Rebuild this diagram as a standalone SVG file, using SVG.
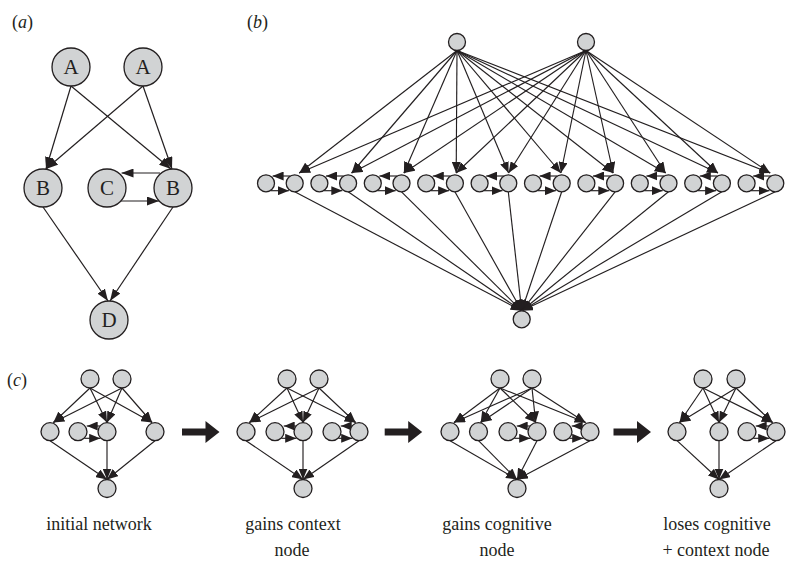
<svg xmlns="http://www.w3.org/2000/svg" width="794" height="565" viewBox="0 0 794 565">
<style>
.n{fill:#d1d3d4;stroke:#231f20;stroke-width:1.3}
.e{stroke:#231f20;stroke-width:1.15;fill:none;marker-end:url(#ah)}
.ea{stroke:#231f20;stroke-width:1.2;fill:none;marker-end:url(#ahL)}
.t{font-family:"Liberation Serif","Times New Roman",serif;font-size:18px;fill:#231f20}
.nl{font-family:"Liberation Serif","Times New Roman",serif;font-size:21px;fill:#231f20;text-anchor:middle}
.lb{text-anchor:middle}
.big{fill:#231f20}
</style>
<defs>
<marker id="ah" viewBox="0 0 11 9" refX="11" refY="4.5" markerWidth="11" markerHeight="9" markerUnits="userSpaceOnUse" orient="auto">
<path d="M0,0 L11,4.5 L0,9 z" fill="#231f20"/>
</marker>
<marker id="ahL" viewBox="0 0 12 9" refX="12" refY="4.5" markerWidth="12" markerHeight="9" markerUnits="userSpaceOnUse" orient="auto">
<path d="M0,0 L12,4.5 L0,9 z" fill="#231f20"/>
</marker>
</defs>
<rect width="794" height="565" fill="#ffffff"/>

<!-- panel labels -->
<text class="t" x="12" y="28">(<tspan font-style="italic">a</tspan>)</text>
<text class="t" x="247" y="28">(<tspan font-style="italic">b</tspan>)</text>
<text class="t" x="7" y="386">(<tspan font-style="italic">c</tspan>)</text>

<g id="connectors">
<!-- panel a -->
<line class="ea" x1="71" y1="86" x2="46" y2="169"/>
<line class="ea" x1="143" y1="86" x2="46" y2="169"/>
<line class="ea" x1="71" y1="86" x2="171" y2="169"/>
<line class="ea" x1="143" y1="86" x2="172" y2="169"/>
<line class="ea" x1="160" y1="173" x2="121.5" y2="173"/>
<line class="ea" x1="121" y1="201" x2="159" y2="201"/>
<line class="ea" x1="43" y1="207" x2="108" y2="301"/>
<line class="ea" x1="173" y1="207" x2="110" y2="301"/>

<!-- panel b top edges -->
<line class="e" x1="457" y1="50.5" x2="299.2" y2="173"/>
<line class="e" x1="457" y1="50.5" x2="351.6" y2="173"/>
<line class="e" x1="457" y1="50.5" x2="403.9" y2="173"/>
<line class="e" x1="457" y1="50.5" x2="456.2" y2="173"/>
<line class="e" x1="457" y1="50.5" x2="508.6" y2="173"/>
<line class="e" x1="457" y1="50.5" x2="560.9" y2="173"/>
<line class="e" x1="457" y1="50.5" x2="613.2" y2="173"/>
<line class="e" x1="457" y1="50.5" x2="665.6" y2="173"/>
<line class="e" x1="457" y1="50.5" x2="717.9" y2="173"/>
<line class="e" x1="457" y1="50.5" x2="770.2" y2="173"/>
<line class="e" x1="586" y1="50.5" x2="299.2" y2="173"/>
<line class="e" x1="586" y1="50.5" x2="351.6" y2="173"/>
<line class="e" x1="586" y1="50.5" x2="403.9" y2="173"/>
<line class="e" x1="586" y1="50.5" x2="456.2" y2="173"/>
<line class="e" x1="586" y1="50.5" x2="508.6" y2="173"/>
<line class="e" x1="586" y1="50.5" x2="560.9" y2="173"/>
<line class="e" x1="586" y1="50.5" x2="613.2" y2="173"/>
<line class="e" x1="586" y1="50.5" x2="665.6" y2="173"/>
<line class="e" x1="586" y1="50.5" x2="717.9" y2="173"/>
<line class="e" x1="586" y1="50.5" x2="770.2" y2="173"/>
<!-- panel b pair edges -->
<line class="e" x1="290.3" y1="176" x2="272.6" y2="176"/>
<line class="e" x1="270.4" y1="190.7" x2="288.9" y2="190.7"/>
<line class="e" x1="343.7" y1="176" x2="326" y2="176"/>
<line class="e" x1="323.8" y1="190.7" x2="342.3" y2="190.7"/>
<line class="e" x1="397.1" y1="176" x2="379.4" y2="176"/>
<line class="e" x1="377.2" y1="190.7" x2="395.7" y2="190.7"/>
<line class="e" x1="450.5" y1="176" x2="432.8" y2="176"/>
<line class="e" x1="430.6" y1="190.7" x2="449.1" y2="190.7"/>
<line class="e" x1="503.9" y1="176" x2="486.2" y2="176"/>
<line class="e" x1="484" y1="190.7" x2="502.5" y2="190.7"/>
<line class="e" x1="557.3" y1="176" x2="539.6" y2="176"/>
<line class="e" x1="537.4" y1="190.7" x2="555.9" y2="190.7"/>
<line class="e" x1="610.7" y1="176" x2="593" y2="176"/>
<line class="e" x1="590.8" y1="190.7" x2="609.3" y2="190.7"/>
<line class="e" x1="664.1" y1="176" x2="646.4" y2="176"/>
<line class="e" x1="644.2" y1="190.7" x2="662.7" y2="190.7"/>
<line class="e" x1="717.5" y1="176" x2="699.8" y2="176"/>
<line class="e" x1="697.6" y1="190.7" x2="716.1" y2="190.7"/>
<line class="e" x1="770.9" y1="176" x2="753.2" y2="176"/>
<line class="e" x1="751" y1="190.7" x2="769.5" y2="190.7"/>
<!-- panel b bottom edges -->
<line class="e" x1="294.7" y1="191.8" x2="521.7" y2="310.8"/>
<line class="e" x1="348.1" y1="191.8" x2="521.7" y2="310.8"/>
<line class="e" x1="401.5" y1="191.8" x2="521.7" y2="310.8"/>
<line class="e" x1="454.9" y1="191.8" x2="521.7" y2="310.8"/>
<line class="e" x1="508.3" y1="191.8" x2="521.7" y2="310.8"/>
<line class="e" x1="561.7" y1="191.8" x2="521.7" y2="310.8"/>
<line class="e" x1="615.1" y1="191.8" x2="521.7" y2="310.8"/>
<line class="e" x1="668.5" y1="191.8" x2="521.7" y2="310.8"/>
<line class="e" x1="721.9" y1="191.8" x2="521.7" y2="310.8"/>
<line class="e" x1="775.3" y1="191.8" x2="521.7" y2="310.8"/>

<!-- panel c network 1 -->
<line class="e" x1="90" y1="388" x2="53.4" y2="422.5"/>
<line class="e" x1="90" y1="388" x2="107" y2="422.5"/>
<line class="e" x1="90" y1="388" x2="152.1" y2="422.5"/>
<line class="e" x1="122" y1="388" x2="53.4" y2="422.5"/>
<line class="e" x1="122" y1="388" x2="107" y2="422.5"/>
<line class="e" x1="122" y1="388" x2="152.1" y2="422.5"/>
<line class="e" x1="100" y1="426" x2="86.7" y2="426"/>
<line class="e" x1="84.5" y1="438.3" x2="100.2" y2="438.3"/>
<line class="e" x1="50" y1="440.7" x2="107" y2="479.5"/>
<line class="e" x1="107" y1="440.7" x2="107" y2="479.5"/>
<line class="e" x1="155" y1="440.7" x2="107" y2="479.5"/>
<!-- network 2 -->
<line class="e" x1="287" y1="388" x2="249.4" y2="422.5"/>
<line class="e" x1="287" y1="388" x2="303" y2="422.5"/>
<line class="e" x1="287" y1="388" x2="355.6" y2="422.5"/>
<line class="e" x1="319" y1="388" x2="249.4" y2="422.5"/>
<line class="e" x1="319" y1="388" x2="303" y2="422.5"/>
<line class="e" x1="319" y1="388" x2="355.6" y2="422.5"/>
<line class="e" x1="296" y1="426" x2="283.7" y2="426"/>
<line class="e" x1="281.5" y1="438.3" x2="296.2" y2="438.3"/>
<line class="e" x1="352" y1="426" x2="340.7" y2="426"/>
<line class="e" x1="338.5" y1="438.3" x2="352.2" y2="438.3"/>
<line class="e" x1="246" y1="440.7" x2="303" y2="479.5"/>
<line class="e" x1="303" y1="440.7" x2="303" y2="479.5"/>
<line class="e" x1="359" y1="440.7" x2="303" y2="479.5"/>
<!-- network 3 -->
<line class="e" x1="500" y1="388" x2="454" y2="422.5"/>
<line class="e" x1="500" y1="388" x2="480.7" y2="422.5"/>
<line class="e" x1="500" y1="388" x2="535.7" y2="422.5"/>
<line class="e" x1="500" y1="388" x2="585.6" y2="422.5"/>
<line class="e" x1="532" y1="388" x2="454" y2="422.5"/>
<line class="e" x1="532" y1="388" x2="480.7" y2="422.5"/>
<line class="e" x1="532" y1="388" x2="535.7" y2="422.5"/>
<line class="e" x1="532" y1="388" x2="585.6" y2="422.5"/>
<line class="e" x1="530" y1="426" x2="516.7" y2="426"/>
<line class="e" x1="514.5" y1="438.3" x2="530.2" y2="438.3"/>
<line class="e" x1="583" y1="426" x2="571.7" y2="426"/>
<line class="e" x1="569.5" y1="438.3" x2="583.2" y2="438.3"/>
<line class="e" x1="450" y1="440.7" x2="517" y2="479.5"/>
<line class="e" x1="478.5" y1="440.7" x2="517" y2="479.5"/>
<line class="e" x1="537" y1="440.7" x2="517" y2="479.5"/>
<line class="e" x1="590" y1="440.7" x2="517" y2="479.5"/>
<!-- network 4 -->
<line class="e" x1="703" y1="388" x2="679.5" y2="422.5"/>
<line class="e" x1="703" y1="388" x2="719" y2="422.5"/>
<line class="e" x1="703" y1="388" x2="772.6" y2="422.5"/>
<line class="e" x1="736" y1="388" x2="679.5" y2="422.5"/>
<line class="e" x1="736" y1="388" x2="719" y2="422.5"/>
<line class="e" x1="736" y1="388" x2="772.6" y2="422.5"/>
<line class="e" x1="769" y1="426" x2="755.7" y2="426"/>
<line class="e" x1="753.5" y1="438.3" x2="769.2" y2="438.3"/>
<line class="e" x1="677" y1="440.7" x2="719" y2="479.5"/>
<line class="e" x1="719" y1="440.7" x2="719" y2="479.5"/>
<line class="e" x1="776" y1="440.7" x2="719" y2="479.5"/>

<!-- big transition arrows -->
<path class="big" d="M182,428.5 H205.5 V421 L219.5,432 L205.5,443 V435.5 H182 Z"/>
<path class="big" d="M384.7,428.5 H408.2 V421 L422.2,432 L408.2,443 V435.5 H384.7 Z"/>
<path class="big" d="M613.5,428.5 H637 V421 L651,432 L637,443 V435.5 H613.5 Z"/>
</g>

<!-- panel a nodes -->
<g id="a-A1"><circle class="n" cx="71" cy="67" r="19"/><text class="nl" x="71" y="74">A</text></g>
<g id="a-A2"><circle class="n" cx="143" cy="67" r="19"/><text class="nl" x="143" y="74">A</text></g>
<g id="a-B1"><circle class="n" cx="43" cy="188" r="19"/><text class="nl" x="43" y="195">B</text></g>
<g id="a-C"><circle class="n" cx="107" cy="188" r="19"/><text class="nl" x="107" y="195">C</text></g>
<g id="a-B2"><circle class="n" cx="173" cy="188" r="19"/><text class="nl" x="173" y="195">B</text></g>
<g id="a-D"><circle class="n" cx="109" cy="320" r="19"/><text class="nl" x="109" y="327">D</text></g>

<!-- panel b nodes -->
<g id="b-top1"><circle class="n" cx="457" cy="42" r="8.5"/></g>
<g id="b-top2"><circle class="n" cx="586" cy="42" r="8.5"/></g>
<g id="b-c0"><circle class="n" cx="266" cy="183.3" r="8.5"/></g>
<g id="b-g0"><circle class="n" cx="294.7" cy="183.3" r="8.5"/></g>
<g id="b-c1"><circle class="n" cx="319.4" cy="183.3" r="8.5"/></g>
<g id="b-g1"><circle class="n" cx="348.1" cy="183.3" r="8.5"/></g>
<g id="b-c2"><circle class="n" cx="372.8" cy="183.3" r="8.5"/></g>
<g id="b-g2"><circle class="n" cx="401.5" cy="183.3" r="8.5"/></g>
<g id="b-c3"><circle class="n" cx="426.2" cy="183.3" r="8.5"/></g>
<g id="b-g3"><circle class="n" cx="454.9" cy="183.3" r="8.5"/></g>
<g id="b-c4"><circle class="n" cx="479.6" cy="183.3" r="8.5"/></g>
<g id="b-g4"><circle class="n" cx="508.3" cy="183.3" r="8.5"/></g>
<g id="b-c5"><circle class="n" cx="533" cy="183.3" r="8.5"/></g>
<g id="b-g5"><circle class="n" cx="561.7" cy="183.3" r="8.5"/></g>
<g id="b-c6"><circle class="n" cx="586.4" cy="183.3" r="8.5"/></g>
<g id="b-g6"><circle class="n" cx="615.1" cy="183.3" r="8.5"/></g>
<g id="b-c7"><circle class="n" cx="639.8" cy="183.3" r="8.5"/></g>
<g id="b-g7"><circle class="n" cx="668.5" cy="183.3" r="8.5"/></g>
<g id="b-c8"><circle class="n" cx="693.2" cy="183.3" r="8.5"/></g>
<g id="b-g8"><circle class="n" cx="721.9" cy="183.3" r="8.5"/></g>
<g id="b-c9"><circle class="n" cx="746.6" cy="183.3" r="8.5"/></g>
<g id="b-g9"><circle class="n" cx="775.3" cy="183.3" r="8.5"/></g>
<g id="b-out"><circle class="n" cx="521.7" cy="319.3" r="8.5"/></g>

<!-- panel c nodes: network 1 -->
<g id="c1-T1"><circle class="n" cx="90" cy="379" r="9"/></g>
<g id="c1-T2"><circle class="n" cx="122" cy="379" r="9"/></g>
<g id="c1-B1"><circle class="n" cx="50" cy="431.7" r="9"/></g>
<g id="c1-C"><circle class="n" cx="78" cy="431.7" r="9"/></g>
<g id="c1-B2"><circle class="n" cx="107" cy="431.7" r="9"/></g>
<g id="c1-B3"><circle class="n" cx="155" cy="431.7" r="9"/></g>
<g id="c1-D"><circle class="n" cx="107" cy="488.5" r="9"/></g>
<!-- network 2 -->
<g id="c2-T1"><circle class="n" cx="287" cy="379" r="9"/></g>
<g id="c2-T2"><circle class="n" cx="319" cy="379" r="9"/></g>
<g id="c2-B1"><circle class="n" cx="246" cy="431.7" r="9"/></g>
<g id="c2-C1"><circle class="n" cx="275" cy="431.7" r="9"/></g>
<g id="c2-B2"><circle class="n" cx="303" cy="431.7" r="9"/></g>
<g id="c2-C2"><circle class="n" cx="332" cy="431.7" r="9"/></g>
<g id="c2-B3"><circle class="n" cx="359" cy="431.7" r="9"/></g>
<g id="c2-D"><circle class="n" cx="303" cy="488.5" r="9"/></g>
<!-- network 3 -->
<g id="c3-T1"><circle class="n" cx="500" cy="379" r="9"/></g>
<g id="c3-T2"><circle class="n" cx="532" cy="379" r="9"/></g>
<g id="c3-B1"><circle class="n" cx="450" cy="431.7" r="9"/></g>
<g id="c3-Bn"><circle class="n" cx="478.5" cy="431.7" r="9"/></g>
<g id="c3-C1"><circle class="n" cx="508" cy="431.7" r="9"/></g>
<g id="c3-B2"><circle class="n" cx="537" cy="431.7" r="9"/></g>
<g id="c3-C2"><circle class="n" cx="563" cy="431.7" r="9"/></g>
<g id="c3-B3"><circle class="n" cx="590" cy="431.7" r="9"/></g>
<g id="c3-D"><circle class="n" cx="517" cy="488.5" r="9"/></g>
<!-- network 4 -->
<g id="c4-T1"><circle class="n" cx="703" cy="379" r="9"/></g>
<g id="c4-T2"><circle class="n" cx="736" cy="379" r="9"/></g>
<g id="c4-B1"><circle class="n" cx="677" cy="431.7" r="9"/></g>
<g id="c4-B2"><circle class="n" cx="719" cy="431.7" r="9"/></g>
<g id="c4-C"><circle class="n" cx="747" cy="431.7" r="9"/></g>
<g id="c4-B3"><circle class="n" cx="776" cy="431.7" r="9"/></g>
<g id="c4-D"><circle class="n" cx="719" cy="488.5" r="9"/></g>

<!-- captions -->
<text class="t lb" x="99" y="530">initial network</text>
<text class="t lb" x="293" y="530">gains context</text>
<text class="t lb" x="292" y="556">node</text>
<text class="t lb" x="497" y="530">gains cognitive</text>
<text class="t lb" x="497" y="556">node</text>
<text class="t lb" x="717" y="530">loses cognitive</text>
<text class="t lb" x="716" y="556">+ context node</text>
</svg>
